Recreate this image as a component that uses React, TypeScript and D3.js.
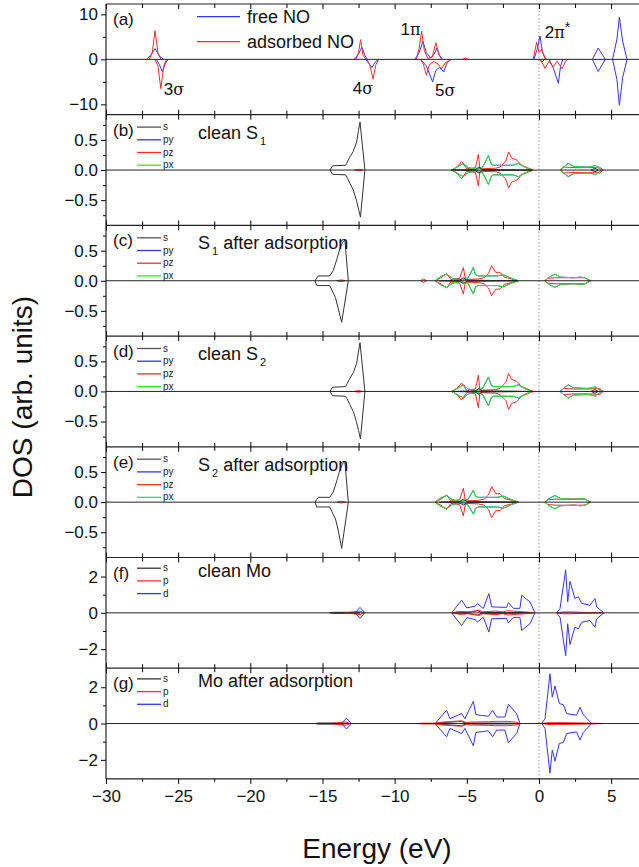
import * as d3 from "d3";
import { useEffect, useRef } from "react";

type Pt = [number, number];

// x axis (energy, eV)
const xDomain: [number, number] = [-30, 7];
const xTicks = [-30, -25, -20, -15, -10, -5, 0, 5];
const xMinor = [-27.5, -22.5, -17.5, -12.5, -7.5, -2.5, 2.5];

// (a) NO molecular orbitals
const freeNOUp: Pt[] = [
  [-27.2, 0], [-26.9, 0.9], [-26.6, 2.4], [-26.3, 0.7], [-26.0, 0],
  [-12.8, 0], [-12.5, 1.2], [-12.27, 2.7], [-12.05, 0.8], [-11.9, 0],
  [-8.6, 0], [-8.3, 1.5], [-8.04, 4.0], [-7.8, 1.5], [-7.5, 0.3], [-7.25, 1.2], [-7.07, 2.5], [-6.9, 1.0], [-6.7, 0],
  [-0.35, 0], [-0.1, 2.5], [0.07, 5.2], [0.25, 1.5], [0.45, 0],
  [3.7, 0], [4.1, 2.5], [4.6, 0],
  [5.1, 0], [5.4, 4.5], [5.57, 9.4], [5.8, 4], [6.1, 0],
];
const freeNODown: Pt[] = [
  [-26.5, 0], [-26.3, 1.2], [-26.1, 2.7], [-25.9, 1.0], [-25.7, 0],
  [-12.0, 0], [-11.8, 0.9], [-11.57, 1.8], [-11.35, 0.6], [-11.1, 0],
  [-8.2, 0], [-7.8, 1.5], [-7.55, 3.5], [-7.37, 5.0], [-7.15, 2.5], [-6.9, 1.8], [-6.6, 2.8], [-6.4, 1.0], [-6.15, 0],
  [0.0, 0], [0.2, 0.6], [0.4, 0], [0.7, 0], [1.0, 2.0], [1.34, 5.3], [1.5, 1.5], [1.65, 0],
  [3.7, 0], [4.1, 2.7], [4.6, 0],
  [5.1, 0], [5.4, 4.5], [5.57, 10.2], [5.8, 4], [6.1, 0],
];
const adsNOUp: Pt[] = [
  [-27.0, 0], [-26.8, 1.5], [-26.6, 6.4], [-26.4, 1.5], [-26.2, 0],
  [-12.7, 0], [-12.5, 1.5], [-12.36, 4.4], [-12.2, 1.0], [-12.0, 0],
  [-8.5, 0], [-8.3, 2.5], [-8.13, 6.3], [-7.95, 2.0], [-7.7, 0.2], [-7.4, 0.5], [-7.14, 3.7], [-6.95, 1.2], [-6.75, 0],
  [-5.3, 0], [-5.1, 0.3], [-4.9, 0],
  [-0.4, 0], [-0.16, 3.8], [0.0, 1.5], [0.19, 2.2], [0.4, 0.5], [0.55, 0],
];
const adsNODown: Pt[] = [
  [-26.6, 0], [-26.4, 1.5], [-26.2, 6.5], [-26.0, 1.5], [-25.8, 0],
  [-11.9, 0], [-11.7, 1.5], [-11.5, 4.4], [-11.3, 1.2], [-11.1, 0],
  [-8.2, 0], [-8.0, 1.2], [-7.8, 3.5], [-7.6, 1.2], [-7.3, 0.5], [-7.0, 1.0], [-6.75, 2.1], [-6.5, 0.8], [-6.05, 0],
  [0.1, 0], [0.42, 2.0], [0.7, 0.4], [0.97, 1.7], [1.25, 0.4], [1.6, 2.1], [1.85, 0.3], [2.0, 0],
];

// (b) clean S1
const bS: Pt[] = [
  [-14.48, 0], [-14.3, 0.07], [-13.4, 0.08], [-13.33, 0.11], [-13.1, 0.22], [-12.87, 0.31], [-12.63, 0.47], [-12.52, 0.64], [-12.4, 0.8], [-12.06, 0],
  [-6.05, 0], [-4.4, 0.01], [-4.16, 0.05], [-3.95, 0.01], [-0.5, 0], [3.6, 0], [3.88, 0.03], [4.1, 0],
];
const bSDown: Pt[] = [
  [-14.48, 0], [-14.3, 0.07], [-13.4, 0.08], [-13.3, 0.12], [-13.1, 0.22], [-12.87, 0.33], [-12.65, 0.5], [-12.5, 0.65], [-12.37, 0.78], [-12.06, 0],
  [-6.05, 0], [-4.4, 0.01], [-4.16, 0.05], [-3.95, 0.01], [-0.5, 0], [3.6, 0], [3.88, 0.03], [4.1, 0],
];
const bPz: Pt[] = [
  [-12.8, 0], [-12.5, 0.012], [-12.2, 0],
  [-6.05, 0], [-5.7, 0.05], [-5.36, 0.14], [-5.0, 0.02], [-4.4, 0.04], [-4.2, 0.26], [-4.09, 0.02], [-3.0, 0.03], [-2.7, 0.05], [-2.3, 0.15], [-2.1, 0.3], [-1.9, 0.2], [-1.55, 0.17], [-1.2, 0.08], [-0.8, 0.04], [-0.39, 0],
  [1.5, 0], [1.7, 0.05], [2.5, 0.04], [3.5, 0.04], [4.2, 0.05], [4.46, 0],
];
const bPx: Pt[] = [
  [-6.05, 0], [-5.6, 0.06], [-5.24, 0.11], [-4.9, 0.04], [-4.3, 0.01], [-3.9, 0.05], [-3.5, 0.24], [-3.3, 0.1], [-3.17, 0.08], [-1.8, 0.08], [-1.43, 0.11], [-1.0, 0.05], [-0.5, 0],
  [1.46, 0], [1.7, 0.05], [2.03, 0.11], [2.4, 0.06], [3.3, 0.05], [3.7, 0.06], [3.88, 0.08], [4.1, 0.04], [4.35, 0],
];

// (c) S1 after adsorption
const cS: Pt[] = [
  [-15.52, 0], [-15.3, 0.08], [-14.5, 0.08], [-14.25, 0.17], [-14.0, 0.36], [-13.8, 0.53], [-13.6, 0.64], [-13.45, 0.68], [-13.21, 0],
  [-6.9, 0], [-5.5, 0.01], [-5.24, 0.05], [-5.0, 0.01], [-1.5, 0],
];
const cSDown: Pt[] = [
  [-15.52, 0], [-15.4, 0.08], [-14.5, 0.08], [-14.1, 0.28], [-13.9, 0.47], [-13.67, 0.69], [-13.21, 0],
  [-6.9, 0], [-5.5, 0.01], [-5.24, 0.05], [-5.0, 0.01], [-1.5, 0],
];
const cPz: Pt[] = [
  [-14.0, 0], [-13.7, 0.015], [-13.4, 0],
  [-8.2, 0], [-8.0, 0.03], [-7.8, 0],
  [-7.2, 0], [-6.8, 0.05], [-6.4, 0.12], [-6.1, 0.02], [-5.5, 0.04], [-5.24, 0.22], [-5.1, 0.02], [-4.2, 0.03], [-3.8, 0.05], [-3.5, 0.12], [-3.28, 0.25], [-3.0, 0.14], [-2.7, 0.14], [-2.4, 0.06], [-1.9, 0.03], [-1.43, 0],
  [0.4, 0], [0.6, 0.04], [1.2, 0.05], [2.5, 0.05], [3.2, 0.05], [3.6, 0],
];
const cPx: Pt[] = [
  [-7.2, 0], [-6.8, 0.07], [-6.4, 0.11], [-6.0, 0.04], [-5.4, 0.01], [-4.9, 0.05], [-4.55, 0.22], [-4.4, 0.1], [-4.2, 0.08], [-2.9, 0.08], [-2.47, 0.1], [-2.0, 0.05], [-1.43, 0],
  [0.42, 0], [0.7, 0.06], [1.1, 0.11], [1.5, 0.06], [2.4, 0.05], [2.9, 0.06], [3.2, 0.05], [3.53, 0],
];

// (d) clean S2
const dS: Pt[] = [
  [-14.48, 0], [-14.3, 0.07], [-13.4, 0.08], [-13.33, 0.11], [-13.1, 0.22], [-12.87, 0.31], [-12.63, 0.47], [-12.52, 0.64], [-12.4, 0.81], [-12.06, 0],
  [-6.05, 0], [-4.4, 0.01], [-4.16, 0.05], [-3.95, 0.01], [-0.5, 0], [3.6, 0], [3.88, 0.03], [4.1, 0],
];
const dSDown: Pt[] = [
  [-14.48, 0], [-14.3, 0.07], [-13.4, 0.08], [-13.3, 0.12], [-13.1, 0.22], [-12.87, 0.33], [-12.65, 0.5], [-12.5, 0.65], [-12.37, 0.79], [-12.06, 0],
  [-6.05, 0], [-4.4, 0.01], [-4.16, 0.05], [-3.95, 0.01], [-0.5, 0], [3.6, 0], [3.88, 0.03], [4.1, 0],
];
const dPz: Pt[] = [
  [-12.8, 0], [-12.5, 0.012], [-12.2, 0],
  [-6.05, 0], [-5.7, 0.05], [-5.36, 0.14], [-5.0, 0.02], [-4.4, 0.04], [-4.2, 0.27], [-4.09, 0.02], [-3.0, 0.03], [-2.7, 0.05], [-2.3, 0.15], [-2.1, 0.3], [-1.9, 0.2], [-1.55, 0.17], [-1.2, 0.08], [-0.8, 0.04], [-0.39, 0],
  [1.5, 0], [1.7, 0.05], [2.5, 0.04], [3.5, 0.04], [4.2, 0.05], [4.46, 0],
];
const dPx: Pt[] = [
  [-6.05, 0], [-5.6, 0.06], [-5.24, 0.11], [-4.9, 0.04], [-4.3, 0.01], [-3.9, 0.05], [-3.5, 0.24], [-3.3, 0.1], [-3.17, 0.08], [-1.8, 0.08], [-1.43, 0.11], [-1.0, 0.05], [-0.5, 0],
  [1.46, 0], [1.7, 0.05], [2.03, 0.11], [2.4, 0.06], [3.3, 0.05], [3.7, 0.06], [3.88, 0.08], [4.1, 0.04], [4.35, 0],
];

// (e) S2 after adsorption
const eS: Pt[] = [
  [-15.52, 0], [-15.3, 0.08], [-14.5, 0.08], [-14.25, 0.17], [-14.0, 0.36], [-13.8, 0.53], [-13.6, 0.64], [-13.45, 0.68], [-13.21, 0],
  [-6.9, 0], [-5.5, 0.01], [-5.24, 0.05], [-5.0, 0.01], [-1.5, 0],
];
const eSDown: Pt[] = [
  [-15.52, 0], [-15.4, 0.08], [-14.5, 0.08], [-14.1, 0.28], [-13.9, 0.48], [-13.67, 0.77], [-13.21, 0],
  [-6.9, 0], [-5.5, 0.01], [-5.24, 0.05], [-5.0, 0.01], [-1.5, 0],
];
const ePz: Pt[] = [
  [-14.0, 0], [-13.7, 0.015], [-13.4, 0],
  [-7.2, 0], [-6.8, 0.05], [-6.4, 0.12], [-6.1, 0.02], [-5.5, 0.04], [-5.24, 0.23], [-5.1, 0.02], [-4.2, 0.03], [-3.8, 0.05], [-3.5, 0.12], [-3.28, 0.26], [-3.0, 0.14], [-2.7, 0.14], [-2.4, 0.06], [-1.9, 0.03], [-1.43, 0],
  [0.4, 0], [0.6, 0.04], [1.2, 0.05], [2.5, 0.05], [3.2, 0.05], [3.6, 0],
];
const ePx: Pt[] = [
  [-7.2, 0], [-6.8, 0.07], [-6.4, 0.11], [-6.0, 0.04], [-5.4, 0.01], [-4.9, 0.05], [-4.55, 0.2], [-4.4, 0.1], [-4.2, 0.08], [-2.9, 0.08], [-2.47, 0.1], [-2.0, 0.05], [-1.43, 0],
  [0.42, 0], [0.7, 0.06], [1.1, 0.11], [1.5, 0.06], [2.4, 0.05], [2.9, 0.06], [3.2, 0.05], [3.53, 0],
];

// (f) clean Mo
const fS: Pt[] = [
  [-14.5, 0], [-14.3, 0.03], [-12.6, 0.03], [-12.4, 0],
  [-6.0, 0], [-5.6, 0.05], [-5.0, 0.03], [-4.25, 0.12], [-4.0, 0.03], [-1.0, 0.02], [-0.5, 0],
];
const fP: Pt[] = [
  [-13.5, 0], [-13.0, 0.04], [-12.4, 0.1], [-12.1, 0],
  [-6.0, 0], [-5.5, 0.08], [-4.8, 0.05], [-4.16, 0.15], [-3.9, 0.05], [-3.0, 0.1], [-2.5, 0.05], [-2.2, 0.12], [-1.5, 0.08], [-0.8, 0.04], [-0.3, 0],
  [1.2, 0], [1.7, 0.05], [2.2, 0.05], [3.0, 0.03], [4.5, 0],
];
const fD: Pt[] = [
  [-12.75, 0], [-12.4, 0.3], [-12.06, 0],
  [-6.05, 0], [-5.36, 0.7], [-5.0, 0.27], [-4.43, 0.37], [-4.25, 0.5], [-3.86, 0.24], [-3.47, 1.06], [-3.28, 0.33], [-2.24, 0.3], [-2.12, 0.56], [-1.78, 0.25], [-1.32, 0.25], [-1.2, 0.97], [-0.62, 0.6], [-0.28, 0],
  [1.22, 0], [1.46, 0.24], [1.85, 2.37], [1.99, 0.6], [2.15, 1.74], [2.49, 0.79], [2.73, 0.88], [2.96, 0.52], [3.53, 0.42], [3.88, 0.79], [4.0, 0.33], [4.5, 0],
];

// (g) Mo after adsorption
const gS: Pt[] = [
  [-15.5, 0], [-15.3, 0.03], [-13.6, 0.03], [-13.3, 0],
  [-7.2, 0], [-6.7, 0.05], [-5.36, 0.12], [-5.1, 0.03], [-2.0, 0.02], [-1.3, 0],
];
const gP: Pt[] = [
  [-14.5, 0], [-14.0, 0.04], [-13.4, 0.1], [-13.1, 0],
  [-8.5, 0], [-8.0, 0.02], [-7.2, 0.02], [-6.7, 0.08], [-5.36, 0.15], [-5.0, 0.05], [-4.8, 0.08], [-3.5, 0.1], [-3.0, 0.12], [-2.2, 0.12], [-1.6, 0.08], [-1.3, 0],
  [0.2, 0], [0.6, 0.05], [1.2, 0.05], [2.5, 0.04], [3.6, 0.02], [4.5, 0],
];
const gD: Pt[] = [
  [-13.7, 0], [-13.33, 0.3], [-13.0, 0],
  [-7.2, 0], [-6.4, 0.73], [-6.17, 0.27], [-5.36, 0.55], [-5.13, 0.27], [-4.55, 1.22], [-4.37, 0.49], [-3.51, 0.4], [-3.21, 0.73], [-2.93, 0.36], [-2.36, 0.36], [-2.12, 1.06], [-1.55, 0.55], [-1.32, 0],
  [0.19, 0], [0.42, 0.27], [0.76, 2.74], [0.92, 1.46], [1.11, 2.07], [1.41, 1.1], [1.69, 1.04], [1.92, 0.55], [2.61, 0.46], [2.84, 0.91], [3.07, 0.49], [3.65, 0],
];

const BLUE = "#3333ff";
const RED = "#ff2b2b";
const GREEN = "#2ee82e";
const BLACK = "#333";

const sLegend: [string, string][] = [["s", "#555"], ["py", BLUE], ["pz", RED], ["px", GREEN]];
const moLegend: [string, string][] = [["s", "#333"], ["p", RED], ["d", BLUE]];

type Series = { color: string; up: Pt[]; down: Pt[] };
type Panel = {
  tag: string;
  name: [string, boolean][];
  yMax: number;
  ticks: number[];
  minor: number[];
  fmt: (v: number) => string;
  series: Series[];
  legend: [string, string][] | null;
  legendTop: number;
  nameY: number;
};

const fmtInt = (v: number) => d3.format("d")(v);
const fmt1 = (v: number) => d3.format(".1f")(v);

const sPanel = (tag: string, name: [string, boolean][], s: Pt[], sd: Pt[], pz: Pt[], px: Pt[]): Panel => ({
  tag, name, yMax: 0.92, ticks: [-0.5, 0, 0.5], minor: [-0.75, -0.25, 0.25, 0.75], fmt: fmt1,
  series: [
    { color: BLUE, up: px, down: px },
    { color: RED, up: pz, down: pz },
    { color: GREEN, up: px, down: px },
    { color: BLACK, up: s, down: sd },
  ],
  legend: sLegend, legendTop: 12.4, nameY: 24,
});

const moPanel = (tag: string, name: [string, boolean][], s: Pt[], p: Pt[], d: Pt[]): Panel => ({
  tag, name, yMax: 3.05, ticks: [-2, 0, 2], minor: [-1, 1], fmt: fmtInt,
  series: [
    { color: BLUE, up: d, down: d },
    { color: BLACK, up: s, down: s },
    { color: RED, up: p, down: p },
  ],
  legend: moLegend, legendTop: 10.7, nameY: 19,
});

const panels: Panel[] = [
  {
    tag: "(a)", name: [], yMax: 12.3, ticks: [-10, 0, 10], minor: [-5, 5], fmt: fmtInt,
    series: [
      { color: BLUE, up: freeNOUp, down: freeNODown },
      { color: RED, up: adsNOUp, down: adsNODown },
    ],
    legend: null, legendTop: 0, nameY: 0,
  },
  sPanel("(b)", [["clean S", false], ["1", true]], bS, bSDown, bPz, bPx),
  sPanel("(c)", [["S", false], ["1", true], [" after adsorption", false]], cS, cSDown, cPz, cPx),
  sPanel("(d)", [["clean S", false], ["2", true]], dS, dSDown, dPz, dPx),
  sPanel("(e)", [["S", false], ["2", true], [" after adsorption", false]], eS, eSDown, ePz, ePx),
  moPanel("(f)", [["clean Mo", false]], fS, fP, fD),
  moPanel("(g)", [["Mo after adsorption", false]], gS, gP, gD),
];

// peak labels in (a)
const peakLabels: { e: number; v: number; main: string; sym: string; sup?: string }[] = [
  { e: -26.0, v: -8.0, main: "3", sym: "σ" },
  { e: -12.9, v: -7.6, main: "4", sym: "σ" },
  { e: -9.6, v: 5.5, main: "1", sym: "π" },
  { e: -7.2, v: -8.2, main: "5", sym: "σ" },
  { e: 0.4, v: 4.8, main: "2", sym: "π", sup: "*" },
];

// break a curve wherever it runs flat along the zero line
const splitZeros = (pts: Pt[]): (Pt | null)[] => {
  const out: (Pt | null)[] = [];
  pts.forEach((p, k) => {
    if (k > 0 && p[1] === 0 && pts[k - 1][1] === 0) out.push(null);
    out.push(p);
  });
  return out;
};

export default function App() {
  const ref = useRef<SVGSVGElement>(null);

  useEffect(() => {
    document.body.style.margin = "0";
    const svg = d3.select(ref.current);
    svg.selectAll("*").remove();

    const font = "'Liberation Sans', Arial, Helvetica, sans-serif";
    const left = 106, right = 640, top0 = 4, panelH = 110.7;
    const bottom = top0 + panelH * panels.length;
    const x = d3.scaleLinear().domain(xDomain).range([left, right]);

    // Fermi level
    svg.append("line")
      .attr("x1", x(0)).attr("x2", x(0))
      .attr("y1", top0).attr("y2", bottom)
      .attr("stroke", "#999").attr("stroke-dasharray", "1.5,2");

    panels.forEach((p, i) => {
      const top = top0 + i * panelH;
      const y = d3.scaleLinear().domain([-p.yMax, p.yMax]).range([top + panelH, top]);
      const line = d3.line<Pt | null>()
        .defined((d) => d !== null)
        .x((d) => x((d as Pt)[0]))
        .y((d) => y((d as Pt)[1]));
      const g = svg.append("g");

      p.series.forEach((s) => {
        g.append("path").attr("d", line(splitZeros(s.up))).attr("fill", "none")
          .attr("stroke", s.color).attr("stroke-width", 1);
        g.append("path").attr("d", line(splitZeros(s.down.map((d) => [d[0], -d[1]] as Pt)))).attr("fill", "none")
          .attr("stroke", s.color).attr("stroke-width", 1);
      });

      // zero line
      g.append("line").attr("x1", left).attr("x2", right)
        .attr("y1", y(0)).attr("y2", y(0)).attr("stroke", "#222").attr("stroke-width", 1);

      // frame top
      g.append("line").attr("x1", left).attr("x2", right)
        .attr("y1", top).attr("y2", top).attr("stroke", "#222").attr("stroke-width", 1.2);

      // inward x ticks top and bottom
      const tTop = g.append("g").attr("transform", `translate(0,${top})`)
        .call(d3.axisTop(x).tickValues(xTicks).tickSize(-5).tickFormat(() => ""));
      const tTopMinor = g.append("g").attr("transform", `translate(0,${top})`)
        .call(d3.axisTop(x).tickValues(xMinor).tickSize(-4).tickFormat(() => ""));
      [tTop, tTopMinor].forEach((a) => a.select(".domain").remove());
      if (i < panels.length - 1) {
        const tb = g.append("g").attr("transform", `translate(0,${top + panelH})`)
          .call(d3.axisBottom(x).tickValues(xTicks).tickSize(-5).tickFormat(() => ""));
        const tbm = g.append("g").attr("transform", `translate(0,${top + panelH})`)
          .call(d3.axisBottom(x).tickValues(xMinor).tickSize(-4).tickFormat(() => ""));
        [tb, tbm].forEach((a) => a.select(".domain").remove());
      }

      // y axis
      const ya = g.append("g").attr("transform", `translate(${left},0)`)
        .call(d3.axisLeft(y).tickValues(p.ticks).tickSize(5).tickPadding(3).tickFormat((v) => p.fmt(v as number)));
      ya.select(".domain").remove();
      ya.selectAll("text").attr("font-size", 17).attr("font-family", font).attr("fill", "#111");
      const ym = g.append("g").attr("transform", `translate(${left},0)`)
        .call(d3.axisLeft(y).tickValues(p.minor).tickSize(3).tickFormat(() => ""));
      ym.select(".domain").remove();

      // panel tag
      g.append("text").attr("x", 113).attr("y", top + 21).text(p.tag)
        .attr("font-size", 17).attr("font-family", font).attr("fill", "#111");

      // panel name
      if (p.name.length) {
        const t = g.append("text").attr("x", 198).attr("y", top + p.nameY)
          .attr("font-size", 18).attr("font-family", font).attr("fill", "#111");
        let shifted = false;
        p.name.forEach(([txt, sub]) => {
          const ts = t.append("tspan").text(txt);
          if (sub) {
            ts.attr("font-size", 11).attr("dy", 6).attr("dx", 2);
            shifted = true;
          } else if (shifted) {
            ts.attr("dy", -6);
            shifted = false;
          }
        });
      }

      // small legend
      if (p.legend) {
        p.legend.forEach(([lab, col], k) => {
          const ly = top + p.legendTop + k * 12.7;
          g.append("line").attr("x1", 137).attr("x2", 161).attr("y1", ly).attr("y2", ly)
            .attr("stroke", col).attr("stroke-width", 1.3);
          g.append("text").attr("x", 163).attr("y", ly + 3).text(lab)
            .attr("font-size", 10).attr("font-family", font).attr("fill", "#222");
        });
      }

      // (a) legend and peak labels
      if (i === 0) {
        const items: [string, string, number][] = [["free NO", BLUE, 16.7], ["adsorbed NO", RED, 41.7]];
        items.forEach(([lab, col, ly]) => {
          g.append("line").attr("x1", 197).attr("x2", 240).attr("y1", ly).attr("y2", ly)
            .attr("stroke", col).attr("stroke-width", 1.3);
          g.append("text").attr("x", 247).attr("y", ly + 6.5).text(lab)
            .attr("font-size", 18).attr("font-family", font).attr("fill", "#111");
        });
        peakLabels.forEach((pl) => {
          const t = g.append("text").attr("x", x(pl.e)).attr("y", y(pl.v))
            .attr("font-size", 17).attr("font-family", font).attr("fill", "#111");
          t.append("tspan").text(pl.main);
          t.append("tspan").text(pl.sym).attr("font-family", "'DejaVu Serif', serif").attr("font-size", 16);
          if (pl.sup) t.append("tspan").text(pl.sup).attr("dy", -6).attr("font-size", 14);
        });
      }
    });

    // left axis line and bottom axis
    svg.append("line").attr("x1", left).attr("x2", left).attr("y1", top0).attr("y2", bottom)
      .attr("stroke", "#222").attr("stroke-width", 1.2);
    svg.append("line").attr("x1", left).attr("x2", right).attr("y1", bottom).attr("y2", bottom)
      .attr("stroke", "#222").attr("stroke-width", 1.2);

    const xa = svg.append("g").attr("transform", `translate(0,${bottom})`)
      .call(d3.axisBottom(x).tickValues(xTicks).tickSize(5).tickPadding(6).tickFormat((v) => fmtInt(v as number)));
    xa.select(".domain").remove();
    xa.selectAll("text").attr("font-size", 17).attr("font-family", font).attr("fill", "#111");
    const xm = svg.append("g").attr("transform", `translate(0,${bottom})`)
      .call(d3.axisBottom(x).tickValues(xMinor).tickSize(3).tickFormat(() => ""));
    xm.select(".domain").remove();

    // axis titles
    svg.append("text").attr("x", 377).attr("y", 858).attr("text-anchor", "middle")
      .text("Energy (eV)").attr("font-size", 28).attr("font-family", font).attr("fill", "#111");
    svg.append("text").attr("transform", "translate(32,397) rotate(-90)").attr("text-anchor", "middle")
      .text("DOS (arb. units)").attr("font-size", 28).attr("font-family", font).attr("fill", "#111");
  }, []);

  return <svg ref={ref} width={639} height={867} style={{ display: "block", background: "#fff" }} />;
}
